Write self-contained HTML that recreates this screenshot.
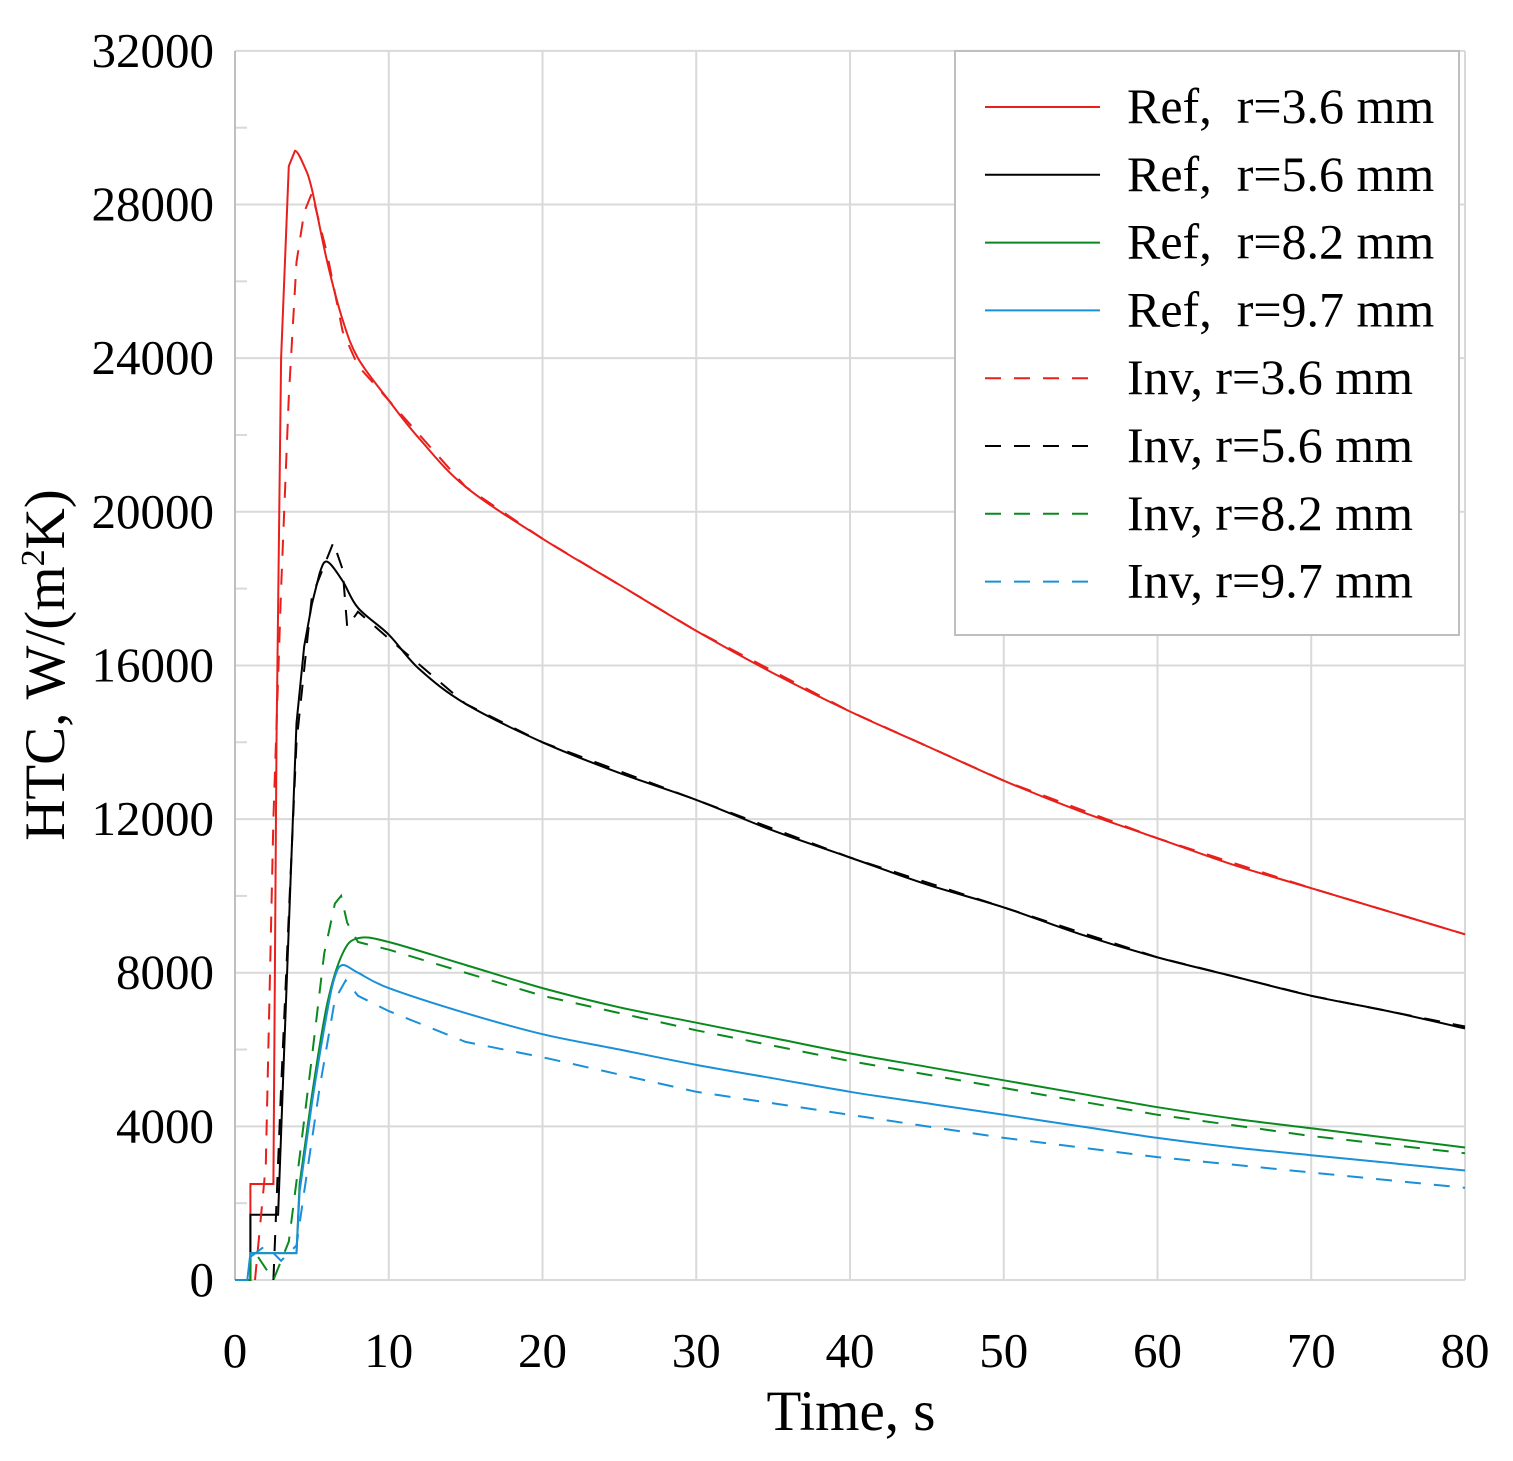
<!DOCTYPE html>
<html><head><meta charset="utf-8"><style>
body{margin:0;background:#fff}
svg{display:block;font-family:"Liberation Serif",serif}
#leg text{white-space:pre}
</style></head><body>
<svg id="s" width="1513" height="1461" viewBox="0 0 1513 1461">
<rect width="1513" height="1461" fill="#fff"/>
<g id="grid" stroke="#d9d9d9" stroke-width="2"></g>
<g id="lab" font-size="49" fill="#000"></g>
<g id="cur" fill="none" stroke-width="2"></g>
<text x="851" y="1430" font-size="57" text-anchor="middle">Time, s</text>
<text transform="translate(64,665) rotate(-90)" font-size="57" text-anchor="middle">HTC, W/(m<tspan font-size="34" dy="-20">2</tspan><tspan dy="20">K)</tspan></text>
<rect x="955" y="51" width="504" height="584" fill="#fff" stroke="#bfbfbf" stroke-width="2"/>
<g id="leg" font-size="50"></g>
</svg>
<script>
const X=t=>235+t*15.375, Y=v=>1280-v*0.03841;
const ns="http://www.w3.org/2000/svg";
function el(p,tag,a,txt){const e=document.createElementNS(ns,tag);for(const k in a)e.setAttribute(k,a[k]);if(txt!=null)e.textContent=txt;document.getElementById(p).appendChild(e);}
for(let t=0;t<=80;t+=10){el('grid','line',{x1:X(t),x2:X(t),y1:51,y2:1280});el('lab','text',{x:X(t),y:1367,'text-anchor':'middle'},t);}
for(let v=0;v<=32000;v+=4000){el('grid','line',{x1:235,x2:1465,y1:Y(v),y2:Y(v)});el('lab','text',{x:214,y:Y(v)+16,'text-anchor':'end'},v);}
for(let v=2000;v<32000;v+=4000){el('grid','line',{x1:235,x2:247,y1:Y(v),y2:Y(v)});}
el('grid','line',{x1:235,x2:235,y1:51,y2:1280,stroke:'#bfbfbf'});
const R='#e8201c',K='#000',G='#0a8a1e',B='#1a90d8';
const series=[
[R,0,7,[[0,0],[1,0],[1,2500],[2.5,2500],[2.7,14000],[3,24000],[3.5,29000],[3.9,29400],[4.5,29000],[5,28400],[6,26500],[7,25000],[8,24000],[10,22900],[12,21900],[15,20650],[20,19300],[25,18100],[30,16900],[35,15800],[40,14800],[45,13900],[50,13000],[55,12200],[60,11500],[65,10800],[70,10200],[75,9600],[80,9000]]],
[K,0,8,[[0,0],[1,0],[1,1700],[2.8,1700],[3.2,6000],[4,14500],[4.5,16500],[5,17600],[5.5,18400],[6,18700],[7,18200],[8,17500],[10,16800],[12,15900],[15,15000],[20,14000],[25,13200],[30,12500],[35,11700],[40,11000],[45,10300],[50,9700],[55,9000],[60,8400],[65,7900],[70,7400],[75,7000],[80,6550]]],
[G,0,5,[[0,0],[1,0],[1,700],[4,700],[4.2,2500],[5,4800],[6,7200],[7,8500],[8,8900],[10,8800],[15,8200],[20,7600],[25,7100],[30,6700],[35,6300],[40,5900],[45,5550],[50,5200],[55,4850],[60,4500],[65,4200],[70,3950],[75,3700],[80,3450]]],
[B,0,5,[[0,0],[0.8,0],[1,700],[4,700],[4.2,2300],[5,4600],[6,7000],[6.5,7900],[7,8200],[8,8000],[10,7600],[15,6950],[20,6400],[25,6000],[30,5600],[35,5250],[40,4900],[45,4600],[50,4300],[55,4000],[60,3700],[65,3450],[70,3250],[75,3050],[80,2850]]],
[R,1,0,[[1.3,0],[2,3000],[2.5,12000],[3,18000],[3.5,23000],[4,26500],[4.5,27800],[5,28300],[6,26700],[7,24700],[8,23800],[10,22900],[15,20650],[20,19300],[30,16900],[40,14800],[50,13000],[60,11500],[70,10200],[80,9000]]],
[K,1,0,[[2.5,0],[3,5000],[4,14000],[5,17800],[6.4,19200],[7,18500],[7.3,17000],[8,17400],[10,16700],[15,15000],[20,14000],[30,12500],[40,11000],[50,9700],[60,8400],[70,7400],[80,6600]]],
[G,1,0,[[1.5,600],[2.5,0],[3.5,1000],[4.2,3200],[5,5800],[5.8,8500],[6.5,9800],[6.9,10000],[7.3,9300],[8,8800],[10,8600],[20,7400],[30,6500],[40,5700],[50,5000],[60,4300],[70,3750],[80,3300]]],
[B,1,0,[[1,600],[2,900],[3,500],[4,900],[4.5,2300],[5.5,5000],[6.5,7300],[7.2,7800],[8,7400],[10,7000],[15,6200],[20,5800],[30,4900],[40,4300],[50,3700],[60,3200],[70,2800],[80,2400]]]
];
function path(p,s){
  const P=p.map(q=>[X(q[0]),Y(q[1])]);
  if(!s) s=P.length-2; 
  let d='M'+P[0][0].toFixed(1)+','+P[0][1].toFixed(1);
  for(let i=1;i<P.length;i++){
    if(i>s && i<P.length){
      const p0=P[Math.max(i-2,0)],p1=P[i-1],p2=P[i],p3=P[Math.min(i+1,P.length-1)];
      const c1=[p1[0]+(p2[0]-p0[0])/6,p1[1]+(p2[1]-p0[1])/6],c2=[p2[0]-(p3[0]-p1[0])/6,p2[1]-(p3[1]-p1[1])/6];
      d+='C'+c1.map(v=>v.toFixed(1))+' '+c2.map(v=>v.toFixed(1))+' '+p2.map(v=>v.toFixed(1));
    } else d+='L'+P[i][0].toFixed(1)+','+P[i][1].toFixed(1);
  }
  return d;
}
for(const [c,d,s,p] of series){el('cur','path',{stroke:c,d:path(p,s||p.length),'stroke-dasharray':d?'16,13':'none'});}
const L=[[R,0,'Ref,  r=3.6 mm'],[K,0,'Ref,  r=5.6 mm'],[G,0,'Ref,  r=8.2 mm'],[B,0,'Ref,  r=9.7 mm'],[R,1,'Inv, r=3.6 mm'],[K,1,'Inv, r=5.6 mm'],[G,1,'Inv, r=8.2 mm'],[B,1,'Inv, r=9.7 mm']];
L.forEach((l,i)=>{const y=107+i*67.8;el('leg','line',{x1:985,x2:1100,y1:y,y2:y,stroke:l[0],'stroke-width':2,'stroke-dasharray':l[1]?'16,13':'none'});el('leg','text',{x:1127,y:y+16},l[2]);});
</script>
</body></html>
